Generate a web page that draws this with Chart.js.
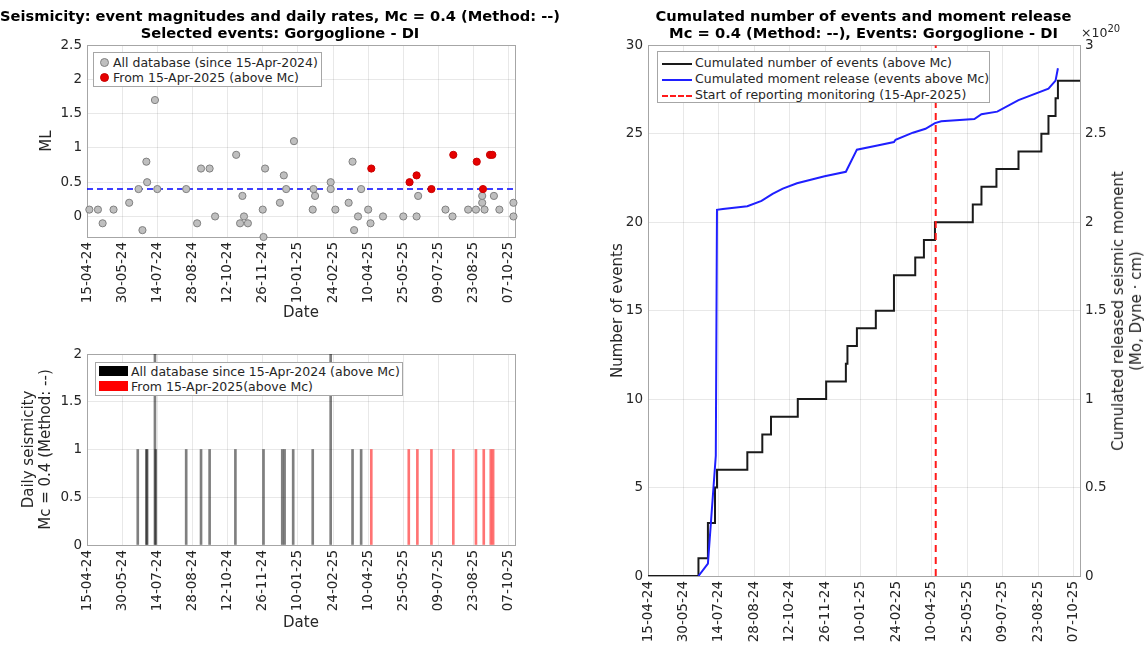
<!DOCTYPE html>
<html>
<head>
<meta charset="utf-8">
<title>Seismicity - Gorgoglione</title>
<script src="https://cdn.jsdelivr.net/npm/chart.js@4.4.1/dist/chart.umd.min.js"></script>
<style>
  html, body { margin: 0; padding: 0; background: #fff; }
  body { position: relative; width: 1148px; height: 648px; overflow: hidden; font-family: 'DejaVu Sans', sans-serif; color: #262626; }
  canvas { position: absolute; }
  #magChart { left: 0; top: 0; }
  #rateChart { left: 0; top: 330px; }
  #cumChart { left: 560px; top: 0; }
  .legend { position: absolute; box-sizing: border-box; background: #fff; border: 1px solid #a6a6a6; font-size: 12.5px; white-space: nowrap; }
  .legend div { position: relative; }
  .dot { position: absolute; left: -13px; top: 3px; width: 7px; height: 7px; border-radius: 50%; border: 1px solid; }
  .swatch { position: absolute; left: -32px; top: 2px; width: 29px; height: 10px; }
  .ln { position: absolute; left: -33px; width: 30px; height: 0; }
  .rtitle { position: absolute; transform: translate(-50%, -50%) rotate(-90deg); font-size: 15px; line-height: 18px; text-align: center; white-space: nowrap; }
  #exp { position: absolute; left: 1081px; top: 23px; font-size: 12.5px; }
  #exp sup { font-size: 10px; }
</style>
</head>
<body>
<canvas id="magChart" width="560" height="330"></canvas>
<canvas id="rateChart" width="560" height="318"></canvas>
<canvas id="cumChart" width="588" height="648"></canvas>

<div class="legend" style="left:93px;top:52px;width:229px;height:35px;padding:2px 0 0 19px;line-height:15px;">
  <div><span class="dot" style="background:#bfbfbf;border-color:#808080"></span>All database (since 15-Apr-2024)</div>
  <div><span class="dot" style="background:#e60000;border-color:#c80000"></span>From 15-Apr-2025 (above Mc)</div>
</div>

<div class="legend" style="left:95px;top:362px;width:308px;height:34px;padding:1px 0 0 35px;line-height:15px;">
  <div><span class="swatch" style="background:#000"></span>All database since 15-Apr-2024 (above Mc)</div>
  <div><span class="swatch" style="background:#ff0000"></span>From 15-Apr-2025(above Mc)</div>
</div>

<div class="legend" style="left:657px;top:51px;width:333px;height:52px;padding:3px 0 0 37px;line-height:16px;">
  <div><span class="ln" style="top:8px;border-top:2px solid #1a1a1a"></span>Cumulated number of events (above Mc)</div>
  <div><span class="ln" style="top:8px;border-top:2px solid #1f1fff"></span>Cumulated moment release (events above Mc)</div>
  <div><span class="ln" style="top:8px;border-top:2px dashed #ff1a1a"></span>Start of reporting monitoring (15-Apr-2025)</div>
</div>

<div id="exp">×10<sup>20</sup></div>
<div class="rtitle" style="left:1127px;top:311px;">Cumulated released seismic moment<br>(Mo, Dyne · cm)</div>

<script>
// x axis is in days since 15-04-2024
const X_MAX = 548;
const MC = 0.4;
const REPORT_DAY = 365; // 15-04-2025

const tickDays = [0, 45, 90, 135, 180, 225, 270, 315, 360, 405, 450, 495, 540];
const tickLabels = ['15-04-24', '30-05-24', '14-07-24', '28-08-24', '12-10-24', '26-11-24', '10-01-25',
                    '24-02-25', '10-04-25', '25-05-25', '09-07-25', '23-08-25', '07-10-25'];

// magnitudes, all database
const allDays = [3, 14, 20, 34, 54, 66, 71, 76, 77, 87, 90, 127, 141, 146, 157, 164, 191, 196, 199, 201,
                 206, 225, 226, 228, 247, 252, 255, 265, 289, 290, 292, 312, 312, 318, 335, 340, 342, 347, 351, 360,
                 363, 379, 405, 422, 424, 459, 468, 488, 498, 506, 506, 509, 521, 528, 546, 546];
const allML = [0.1, 0.1, -0.1, 0.1, 0.2, 0.4, -0.2, 0.8, 0.5, 1.7, 0.4, 0.4, -0.1, 0.7, 0.7, 0, 0.9, -0.1, 0.3, 0,
               -0.1, 0.1, -0.3, 0.7, 0.2, 0.6, 0.4, 1.1, 0.1, 0.4, 0.3, 0.5, 0.4, 0.1, 0.2, 0.8, -0.2, 0, 0.4, 0.1,
               -0.1, 0, 0, 0, 0.3, 0.1, 0, 0.1, 0.1, 0.2, 0.3, 0.1, 0.3, 0.1, 0.2, 0];

// magnitudes from 15-04-2025, above Mc
const newDays = [364, 413, 422, 441, 469, 499, 507, 516, 519];
const newML = [0.7, 0.5, 0.6, 0.4, 0.9, 0.8, 0.4, 0.9, 0.9];

// daily counts above Mc
const dailyDays = [65, 76, 77, 87, 88, 127, 146, 157, 190, 226, 250, 253, 264, 289, 312, 340, 351];
const dailyCounts = [1, 1, 1, 2, 1, 1, 1, 1, 1, 1, 1, 1, 1, 1, 2, 1, 1];
const newDailyDays = [364, 412, 423, 441, 469, 498, 508, 517, 520];
const newDailyCounts = [1, 1, 1, 1, 1, 1, 1, 1, 1];

// cumulated number of events (step changes)
const countDays = [0, 64, 76, 85, 87.5, 126, 145, 156, 190, 226, 251, 253, 265, 289, 312, 339, 350, 364,
                   412, 423, 442, 470, 499, 508, 517, 520, 548];
const countValues = [0, 1, 3, 5, 6, 7, 8, 9, 10, 11, 12, 13, 14, 15, 17, 18, 19, 20,
                     21, 22, 23, 24, 25, 26, 27, 28, 28];

// cumulated moment release, x 10^20 dyne cm
const momentDays = [64, 76, 86, 87.5, 95, 126, 144, 158, 171, 189, 224, 251, 265, 291, 312, 314, 336, 352,
                    364, 372, 414, 423, 443, 470, 508, 517, 520];
const momentValues = [0, 0.07, 0.68, 2.07, 2.075, 2.09, 2.12, 2.16, 2.19, 2.22, 2.26, 2.285, 2.41, 2.434, 2.453, 2.466, 2.506, 2.528,
                      2.56, 2.57, 2.583, 2.61, 2.625, 2.69, 2.755, 2.80, 2.87];

const mlTicks = [0, 0.5, 1, 1.5, 2, 2.5];
const rateTicks = [0, 0.5, 1, 1.5, 2];
const countTicks = [0, 5, 10, 15, 20, 25, 30];
const momentTicks = [0, 0.5, 1, 1.5, 2, 2.5, 3];

const FONT = "'DejaVu Sans', sans-serif";
const GRID = 'rgba(0,0,0,0.09)';
const TITLE_FONT = { family: FONT, size: 15, lineHeight: 1.1 };

Chart.defaults.font.family = FONT;
Chart.defaults.font.size = 13.5;
Chart.defaults.color = '#262626';
Chart.defaults.animation = false;
Chart.defaults.plugins.legend.display = false;
Chart.defaults.plugins.tooltip.enabled = false;

const pts = (xs, ys) => xs.map((x, i) => ({ x: x, y: ys[i] }));

// box around the plot area, like matlab "box on"
const framePlugin = {
  id: 'frame',
  beforeDatasetsDraw(chart) {
    const { ctx, chartArea: a } = chart;
    ctx.save();
    ctx.strokeStyle = '#a6a6a6';
    ctx.lineWidth = 1;
    ctx.strokeRect(Math.round(a.left) + 0.5, Math.round(a.top) + 0.5, Math.round(a.width), Math.round(a.height));
    ctx.restore();
  }
};

function dateAxis(height, title, titlePadBottom) {
  return {
    type: 'linear',
    min: 0,
    max: X_MAX,
    offset: false,
    grid: { color: GRID, drawTicks: false, offset: false },
    border: { display: false },
    afterBuildTicks: s => { s.ticks = tickDays.map(v => ({ value: v })); },
    afterFit: s => { s.height = height; },
    ticks: {
      autoSkip: false, minRotation: 90, maxRotation: 90, padding: 5,
      callback: (v, i) => tickLabels[i]
    },
    title: title ? { display: true, text: title, font: TITLE_FONT, padding: { top: 2, bottom: titlePadBottom } }
                 : { display: false }
  };
}

function valueAxis(min, max, ticks, width, title, titlePadTop, extra) {
  return Object.assign({
    type: 'linear',
    min: min,
    max: max,
    grid: { color: GRID, drawTicks: false },
    border: { display: false },
    afterBuildTicks: s => { s.ticks = ticks.map(v => ({ value: v })); },
    afterFit: s => { s.width = width; },
    ticks: { padding: 5, callback: v => String(v) },
    title: title ? { display: true, text: title, font: TITLE_FONT, padding: { top: titlePadTop, bottom: 0 } }
                 : { display: false }
  }, extra || {});
}

const titleOpts = (lines) => ({
  display: true,
  text: lines,
  color: '#000',
  font: { family: FONT, size: 14.7, weight: 'bold', lineHeight: 1.2 },
  padding: { top: 8, bottom: 2 }
});

// --- 1. magnitudes ---
new Chart(document.getElementById('magChart'), {
  type: 'scatter',
  data: {
    datasets: [
      {
        label: 'All database (since 15-Apr-2024)',
        data: pts(allDays, allML),
        backgroundColor: '#bfbfbf',
        borderColor: '#808080',
        borderWidth: 1,
        pointRadius: 3.6,
        clip: false,
        order: 3
      },
      {
        label: 'From 15-Apr-2025 (above Mc)',
        data: pts(newDays, newML),
        backgroundColor: '#e60000',
        borderColor: '#c80000',
        borderWidth: 1,
        pointRadius: 3.6,
        clip: false,
        order: 2
      },
      {
        label: 'Mc',
        data: [{ x: 0, y: MC }, { x: X_MAX, y: MC }],
        showLine: true,
        borderColor: '#0000ff',
        borderWidth: 1.5,
        borderDash: [6, 4],
        pointRadius: 0,
        order: 4
      }
    ]
  },
  options: {
    responsive: false,
    plugins: { title: titleOpts(['Seismicity: event magnitudes and daily rates, Mc = 0.4 (Method: --)',
                                 'Selected events: Gorgoglione - DI']) },
    scales: {
      x: dateAxis(93, 'Date', 8.5),
      y: valueAxis(-0.3, 2.5, mlTicks, 87, 'ML', 38.5),
      yPad: {
        position: 'right', display: true,
        grid: { display: false }, border: { display: false }, ticks: { display: false },
        afterFit: s => { s.width = 45; }
      }
    }
  },
  plugins: [framePlugin]
});

// --- 2. daily rates ---
new Chart(document.getElementById('rateChart'), {
  type: 'bar',
  data: {
    datasets: [
      {
        label: 'All database since 15-Apr-2024 (above Mc)',
        data: pts(dailyDays, dailyCounts),
        backgroundColor: 'rgba(0,0,0,0.5)',
        barThickness: 2,
        grouped: false
      },
      {
        label: 'From 15-Apr-2025(above Mc)',
        data: pts(newDailyDays, newDailyCounts),
        backgroundColor: 'rgba(255,0,0,0.55)',
        barThickness: 2,
        grouped: false
      }
    ]
  },
  options: {
    responsive: false,
    layout: { padding: { top: 24, right: 45 } },
    scales: {
      x: dateAxis(103, 'Date', 17),
      y: valueAxis(0, 2, rateTicks, 87, ['Daily seismicity', 'Mc = 0.4 (Method: --)'], 21)
    }
  },
  plugins: [framePlugin]
});

// --- 3. cumulated events and moment ---
new Chart(document.getElementById('cumChart'), {
  type: 'line',
  data: {
    datasets: [
      {
        label: 'Cumulated number of events (above Mc)',
        data: pts(countDays, countValues),
        yAxisID: 'y',
        stepped: 'before',
        borderColor: '#1a1a1a',
        borderWidth: 2,
        pointRadius: 0,
        order: 3
      },
      {
        label: 'Cumulated moment release (events above Mc)',
        data: pts(momentDays, momentValues),
        yAxisID: 'y2',
        borderColor: '#1f1fff',
        borderWidth: 2,
        pointRadius: 0,
        tension: 0,
        order: 2
      },
      {
        label: 'Start of reporting monitoring (15-Apr-2025)',
        data: [{ x: REPORT_DAY, y: 0 }, { x: REPORT_DAY, y: 30 }],
        yAxisID: 'y',
        borderColor: '#ff1a1a',
        borderWidth: 2,
        borderDash: [7, 5],
        pointRadius: 0,
        order: 1
      }
    ]
  },
  options: {
    responsive: false,
    layout: { padding: { left: 19 } },
    plugins: { title: titleOpts(['Cumulated number of events and moment release',
                                 'Mc = 0.4 (Method: --), Events: Gorgoglione - DI']) },
    scales: {
      x: dateAxis(72, null, 0),
      y: valueAxis(0, 30, countTicks, 69, 'Number of events', 30.5),
      y2: valueAxis(0, 3, momentTicks, 68, null, 0, {
        position: 'right',
        grid: { drawOnChartArea: false, drawTicks: false }
      })
    }
  },
  plugins: [framePlugin]
});
</script>
</body>
</html>
